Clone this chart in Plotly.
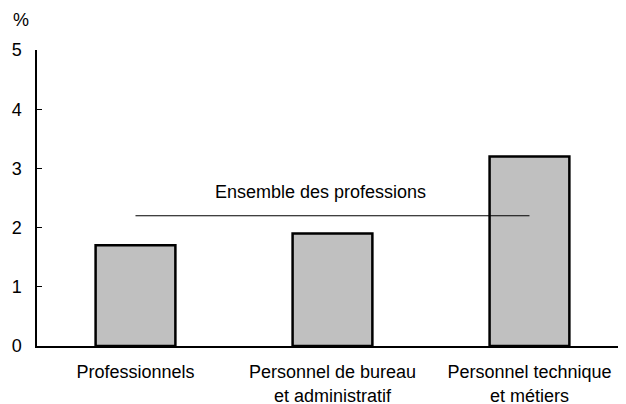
import plotly.graph_objects as go

categories = ["Professionnels", "Personnel de bureau<br>et administratif", "Personnel technique<br>et métiers"]
values = [1.7, 1.9, 3.2]
overall_value = 2.2
overall_label = "Ensemble des professions"
y_ticks = [0, 1, 2, 3, 4, 5]

FONT = dict(family="Liberation Sans, Arial, sans-serif", size=18, color="black")

fig = go.Figure()
fig.add_trace(go.Bar(
    x=categories, y=values,
    marker=dict(color="#c0c0c0", line=dict(color="black", width=2.5)),
    width=0.405, showlegend=False, hoverinfo="skip",
))
fig.add_trace(go.Scatter(
    x=categories, y=[overall_value] * len(categories),
    mode="lines", line=dict(color="black", width=1), showlegend=False, hoverinfo="skip",
))
fig.add_annotation(x=0.94, y=overall_value + 0.40, xref="x", yref="y", text=overall_label,
                   showarrow=False, font=FONT, xanchor="center", yanchor="middle")
fig.add_annotation(x=-16 / 589, y=1.103, xref="paper", yref="paper", text="%",
                   showarrow=False, font=FONT, xanchor="center", yanchor="middle")

fig.update_layout(
    template="none",
    width=618, height=396,
    margin=dict(l=29, r=0, t=42, b=58, autoexpand=False),
    paper_bgcolor="white", plot_bgcolor="white",
    font=FONT,
    xaxis=dict(range=[-0.5, 2.49], showline=True, linecolor="black", linewidth=1.5,
               ticks="", showgrid=False, zeroline=False, ticklabelstandoff=9, automargin=False),
    yaxis=dict(range=[0, 5], tickvals=y_ticks, showline=True, linecolor="black", linewidth=1.5,
               ticks="inside", ticklen=5, tickcolor="black", tickwidth=1,
               showgrid=False, zeroline=False, ticklabelstandoff=10, automargin=False),
)
fig.write_html("out.html")
